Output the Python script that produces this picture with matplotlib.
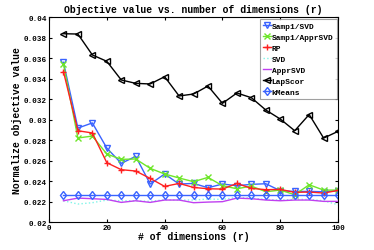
import matplotlib
matplotlib.use("Agg")
from matplotlib import pyplot as plt

# data
dims = [5, 10, 15, 20, 25, 30, 35, 40, 45, 50, 55, 60, 65, 70, 75, 80, 85, 90, 95, 100]

samp_svd = [0.03561, 0.0292, 0.0297, 0.02725, 0.02576, 0.02644, 0.02374, 0.02472, 0.02374, 0.0238,
            0.02338, 0.02374, 0.02358, 0.02371, 0.02377, 0.02309, 0.02302, 0.02302, 0.02299, 0.02309]
samp_apprsvd = [0.03545, 0.02823, 0.02842, 0.02667, 0.02615, 0.02618, 0.02527, 0.02472, 0.02433, 0.02397,
                0.02439, 0.02358, 0.02328, 0.02354, 0.02299, 0.02315, 0.0227, 0.02367, 0.02315, 0.02315]
rp = [0.0347, 0.02894, 0.02872, 0.02582, 0.02514, 0.02501, 0.02429, 0.02351, 0.0238, 0.02341,
      0.02328, 0.02325, 0.0238, 0.02332, 0.02319, 0.02322, 0.02293, 0.02296, 0.02286, 0.02312]
svd = [0.02211, 0.02179, 0.02192, 0.02218, 0.02211, 0.02211, 0.02205, 0.02221, 0.02218, 0.02218,
       0.02228, 0.02224, 0.02244, 0.02237, 0.02224, 0.02218, 0.02224, 0.02224, 0.02211, 0.02172]
apprsvd = [0.02211, 0.02237, 0.02231, 0.02224, 0.02195, 0.02211, 0.02195, 0.02218, 0.02218, 0.02192,
           0.02198, 0.02202, 0.02237, 0.02231, 0.02218, 0.02211, 0.02218, 0.02218, 0.02205, 0.02205]
lapscor = [0.0384, 0.03837, 0.03633, 0.03571, 0.03389, 0.03356, 0.0335, 0.03421, 0.03233, 0.03252,
           0.0333, 0.03161, 0.03262, 0.03216, 0.03096, 0.03008, 0.02894, 0.03052, 0.02822, 0.02888]
kmeans = [0.02267] * 20

plt.rcParams['font.family'] = ['Liberation Mono', 'DejaVu Sans Mono']
plt.rcParams['font.weight'] = 'bold'

fig = plt.figure(figsize=(3.74, 2.51), dpi=100)
ax = fig.add_axes([0.131, 0.110, 0.773, 0.817])

ms = 4.5
ax.plot(dims, samp_svd, color='#3a63ff', lw=1, marker='v', ms=ms, mfc='none', label='Samp1/SVD')
ax.plot(dims, samp_apprsvd, color='#6ee62a', lw=1, marker='x', ms=ms, label='Samp1/ApprSVD')
ax.plot(dims, rp, color='#ff2020', lw=1, marker='+', ms=ms, label='RP')
ax.plot(dims, svd, color='#80f5e8', lw=1, ls=':', label='SVD')
ax.plot(dims, apprsvd, color='#c040f0', lw=1, label='ApprSVD')
ax.plot(dims, lapscor, color='black', lw=1, marker='<', ms=ms, mfc='none', label='LapScor')
ax.plot(dims, kmeans, color='#3a63ff', lw=1, marker='d', ms=ms, mfc='none', label='kMeans')

ax.set_xlim(0, 100)
ax.set_ylim(0.02, 0.04)
ax.set_xticks([0, 20, 40, 60, 80, 100])
ax.set_yticks([0.02, 0.022, 0.024, 0.026, 0.028, 0.03, 0.032, 0.034, 0.036, 0.038, 0.04])
ax.set_yticklabels(['0.02', '0.022', '0.024', '0.026', '0.028', '0.03', '0.032',
                    '0.034', '0.036', '0.038', '0.04'])
ax.tick_params(direction='in', top=True, right=True, labelsize=5.5, length=2.5, pad=1.5)

ax.set_title('Objective value vs. number of dimensions (r)', fontsize=7, fontweight='bold', pad=4)
ax.set_xlabel('# of dimensions (r)', fontsize=7, fontweight='bold', labelpad=0)
ax.set_ylabel('Normalize objective value', fontsize=7, fontweight='bold', labelpad=1)

leg = ax.legend(loc='upper right', fontsize=5.7, handlelength=1.0, handletextpad=0.1,
                borderaxespad=0.2, labelspacing=0.45, fancybox=False, borderpad=0.4)
leg.get_frame().set_edgecolor('#888888')
leg.get_frame().set_linewidth(0.8)

fig.savefig('out.png', dpi=100)
